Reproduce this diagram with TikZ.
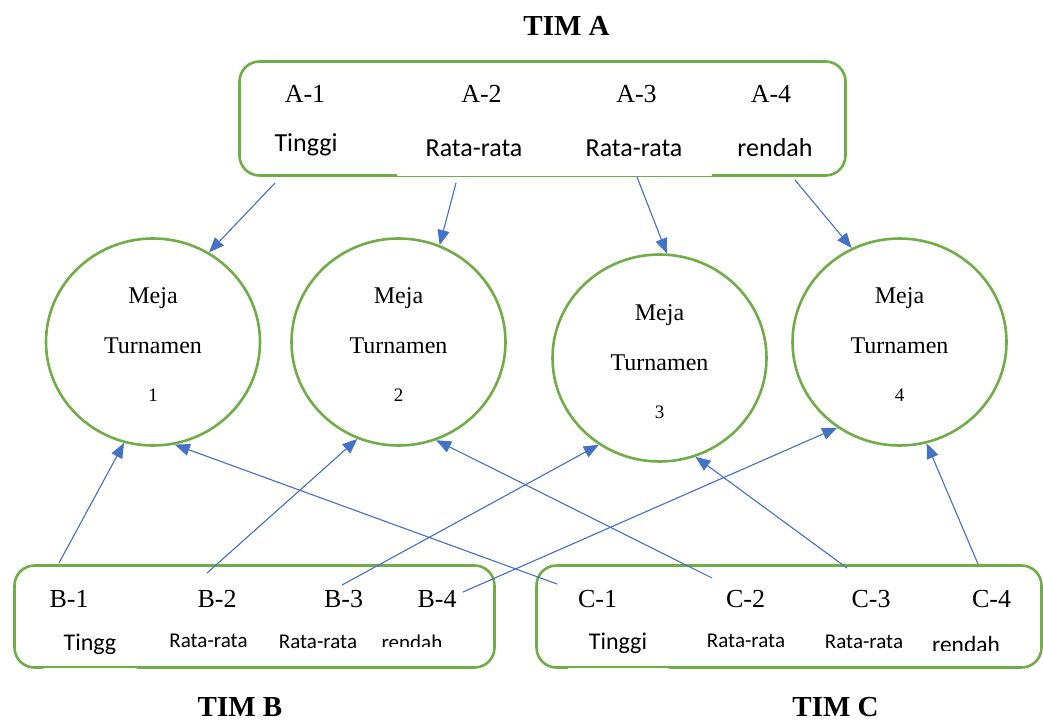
\documentclass[tikz,border=0pt]{standalone}
\usepackage{fontspec}
\setmainfont{Liberation Serif}
\newfontfamily\calfont{Carlito}
\usetikzlibrary{shapes.geometric,arrows.meta}
\definecolor{ogreen}{HTML}{70AD47}
\definecolor{oblue}{HTML}{4472C4}
\tikzset{
  boxline/.style={draw=ogreen, line width=2.6pt, rounded corners=20pt},
  meja/.style={shape=ellipse, draw=ogreen, line width=2.6pt, minimum width=214pt, minimum height=207pt, inner sep=0pt},
  arr/.style={draw=oblue, line width=1.1pt, -{Triangle[length=15pt,width=12pt]}, fill=oblue},
  tim/.style={anchor=base, inner sep=0pt, font=\fontsize{29}{31}\selectfont\bfseries},
  lab/.style={anchor=base, inner sep=0pt, font=\fontsize{26}{28}\selectfont},
  mtxt/.style={anchor=base, inner sep=0pt, font=\fontsize{24}{26}\selectfont},
  ntxt/.style={anchor=base, inner sep=0pt, font=\fontsize{19}{21}\selectfont},
  kbig/.style={anchor=base, inner sep=0pt, font=\calfont\fontsize{26}{28}\selectfont},
  kmid/.style={anchor=base, inner sep=0pt, font=\calfont\fontsize{24}{26}\selectfont},
  ksml/.style={anchor=base, inner sep=0pt, font=\calfont\fontsize{21}{23}\selectfont},
}
\begin{document}
\begin{tikzpicture}[x=1pt,y=-1pt]
\useasboundingbox[fill=white] (0,0) rectangle (1043,722);

% boxes
\draw[boxline] (239.5,61.5) rectangle (845.5,175.5);
\draw[boxline] (14.5,565.5) rectangle (494.5,667.5);
\draw[boxline] (536.5,565.5) rectangle (1041.5,667.5);
% white text-box patches thinning the borders
\fill[white] (397,174.2) rectangle (712,175.9);
\fill[white] (43,667.6) rectangle (137,669.5);
\fill[white] (568,667.6) rectangle (669,669.5);

% team titles
\node[tim] (tima) at (566.5,36) {TIM A};
\node[tim] (timb) at (240,716) {TIM B};
\node[tim] (timc) at (835.5,716) {TIM C};

% team A labels
\node[lab] (a1) at (305,103) {A-1};
\node[lab] (a2) at (481.5,103) {A-2};
\node[lab] (a3) at (636.5,103) {A-3};
\node[lab] (a4) at (771,103) {A-4};
\node[kbig] (a1k) at (306,152) {Tinggi};
\node[kbig] (a2k) at (474,157) {Rata-rata};
\node[kbig] (a3k) at (634,157) {Rata-rata};
\node[kbig] (a4k) at (775,157) {rendah};

% tables
\node[meja] (c1) at (153,342) {};
\node[meja] (c2) at (398.5,342) {};
\node[meja] (c3) at (659.5,358) {};
\node[meja] (c4) at (899.5,342) {};
\node[mtxt] (c1a) at (153,303) {Meja};
\node[mtxt] (c1b) at (153,353) {Turnamen};
\node[ntxt] (c1c) at (153,401) {1};
\node[mtxt] (c2a) at (398.5,303) {Meja};
\node[mtxt] (c2b) at (398.5,353) {Turnamen};
\node[ntxt] (c2c) at (398.5,401) {2};
\node[mtxt] (c3a) at (659.5,320) {Meja};
\node[mtxt] (c3b) at (659.5,370) {Turnamen};
\node[ntxt] (c3c) at (659.5,418) {3};
\node[mtxt] (c4a) at (899.5,303) {Meja};
\node[mtxt] (c4b) at (899.5,353) {Turnamen};
\node[ntxt] (c4c) at (899.5,401) {4};

% team B labels
\node[lab] (b1) at (69,607) {B-1};
\node[lab] (b2) at (217,607) {B-2};
\node[lab] (b3) at (343.5,607) {B-3};
\node[lab] (b4) at (437,607) {B-4};
\node[kmid] (b1k) at (90,650) {Tingg};
\node[ksml] (b2k) at (208.5,647) {Rata-rata};
\node[ksml] (b3k) at (318,648.5) {Rata-rata};
\begin{scope}
\clip (370,620) rectangle (460,646);
\node[ksml] (b4k) at (412,649) {rendah};
\end{scope}

% team C labels
\node[lab] (cc1) at (597.5,607) {C-1};
\node[lab] (cc2) at (745.5,607) {C-2};
\node[lab] (cc3) at (871,607) {C-3};
\node[lab] (cc4) at (991.5,607) {C-4};
\node[kmid] (c1k) at (618,649) {Tinggi};
\node[ksml] (c2k) at (746,647) {Rata-rata};
\node[ksml] (c3k) at (864,648.5) {Rata-rata};
\begin{scope}
\clip (920,620) rectangle (1015,650);
\node[ksml,font=\calfont\fontsize{23.4}{25}\selectfont] (c4k) at (966,652) {rendah};
\end{scope}

% connector start points
\coordinate (a1s) at (275,183);
\coordinate (a2s) at (456,183);
\coordinate (a3s) at (637,177);
\coordinate (a4s) at (795,180);
\coordinate (b1s) at (59,563);
\coordinate (b2s) at (207,573);
\coordinate (b3s) at (342,585);
\coordinate (b4s) at (463,592);
\coordinate (c1s) at (557,584);
\coordinate (c2s) at (712,578);
\coordinate (c3s) at (847,568);
\coordinate (c4s) at (978,564);

% connectors
\draw[arr] (a1s) -- (c1.58);
\draw[arr] (a2s) -- (c2.67);
\draw[arr] (a3s) -- (c3.86);
\draw[arr] (a4s) -- (c4.117);
\draw[arr] (b1s) -- (c1.254);
\draw[arr] (c1s) -- (c1.282);
\draw[arr] (b2s) -- (c2.247);
\draw[arr] (c2s) -- (c2.291);
\draw[arr] (b3s) -- (c3.235);
\draw[arr] (c3s) -- (c3.290);
\draw[arr] (b4s) -- (c4.234);
\draw[arr] (c4s) -- (c4.285);
\end{tikzpicture}
\end{document}
